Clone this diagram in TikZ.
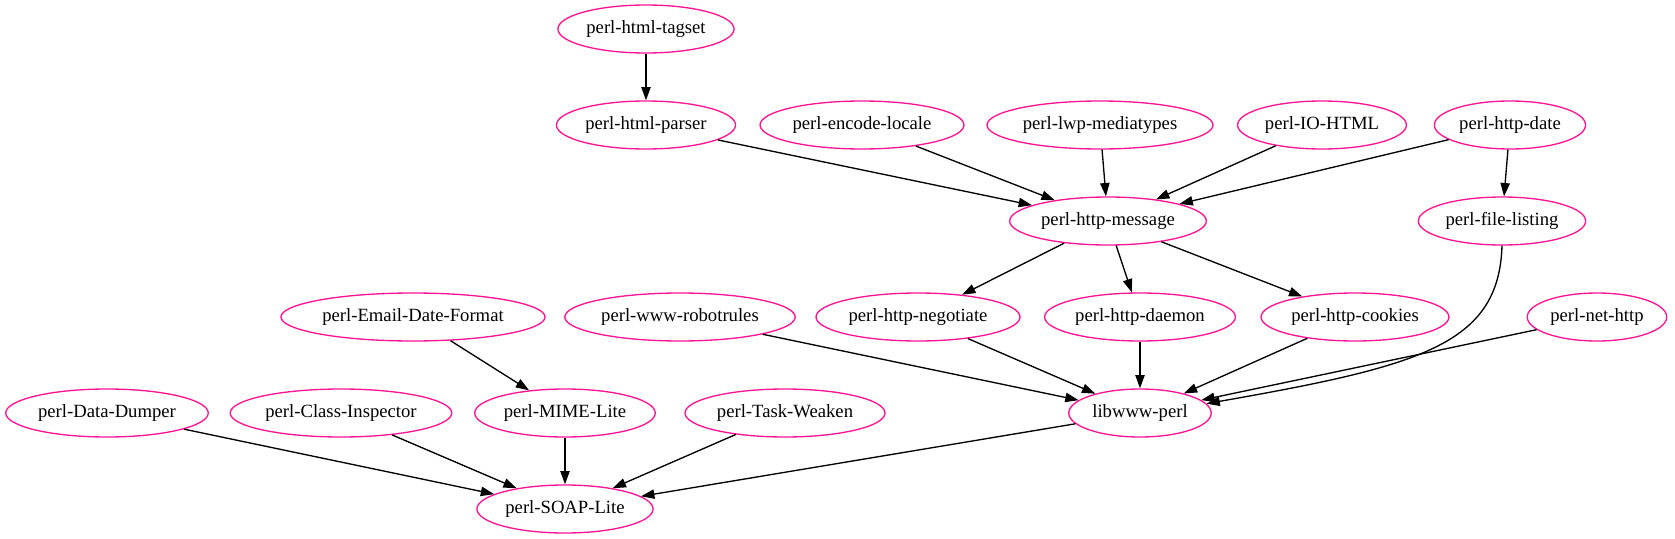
\documentclass[tikz,border=0pt]{standalone}
\usepackage{fontspec}
\setmainfont{Liberation Serif}
\usetikzlibrary{shapes.geometric,arrows.meta}
\definecolor{pkgpink}{HTML}{FF1493}
\begin{document}
\begin{tikzpicture}[x=0.75pt,y=-0.75pt,
  pkg/.style={ellipse, draw=pkgpink, line width=1pt, minimum height=36pt, minimum width=54pt,
    inner xsep=2pt, inner ysep=0pt, font=\fontsize{14pt}{16pt}\selectfont},
  dep/.style={line width=1pt, -{Triangle[length=10pt,width=7pt]}}]
\useasboundingbox (0,0) rectangle (1675,539);
% rank 1 and 2
\node[pkg] (tagset) at (646,29) {perl-html-tagset};
\node[pkg] (parser) at (646,125) {perl-html-parser};
\node[pkg] (encode) at (862,125) {perl-encode-locale};
\node[pkg] (lwp) at (1100,125) {perl-lwp-mediatypes};
\node[pkg] (iohtml) at (1322,125) {perl-IO-HTML};
\node[pkg] (date) at (1510,125) {perl-http-date};
% rank 3
\node[pkg] (message) at (1108,221) {perl-http-message};
\node[pkg] (listing) at (1502,221) {perl-file-listing};
% rank 4
\node[pkg] (email) at (413,317) {perl-Email-Date-Format};
\node[pkg] (robot) at (680,317) {perl-www-robotrules};
\node[pkg] (negotiate) at (918,317) {perl-http-negotiate};
\node[pkg] (daemon) at (1140,317) {perl-http-daemon};
\node[pkg] (cookies) at (1355,317) {perl-http-cookies};
\node[pkg] (nethttp) at (1597,317) {perl-net-http};
% rank 5 and 6
\node[pkg] (dumper) at (107,413) {perl-Data-Dumper};
\node[pkg] (inspector) at (341,413) {perl-Class-Inspector};
\node[pkg] (mime) at (565,413) {perl-MIME-Lite};
\node[pkg] (weaken) at (785,413) {perl-Task-Weaken};
\node[pkg] (libwww) at (1140,413) {libwww-perl};
\node[pkg] (soap) at (565,509) {perl-SOAP-Lite};
% dependencies
\foreach \a/\b in {tagset/parser, parser/message, encode/message, lwp/message, iohtml/message,
    date/message, date/listing, message/negotiate, message/daemon, message/cookies,
    robot/libwww, negotiate/libwww, daemon/libwww, cookies/libwww, nethttp/libwww,
    email/mime, dumper/soap, inspector/soap, mime/soap, weaken/soap, libwww/soap}
  \draw[dep] (\a) -- (\b);
\draw[dep] (listing.south) .. controls (1499,345) and (1420,366) .. (libwww.8);
\end{tikzpicture}
\end{document}
